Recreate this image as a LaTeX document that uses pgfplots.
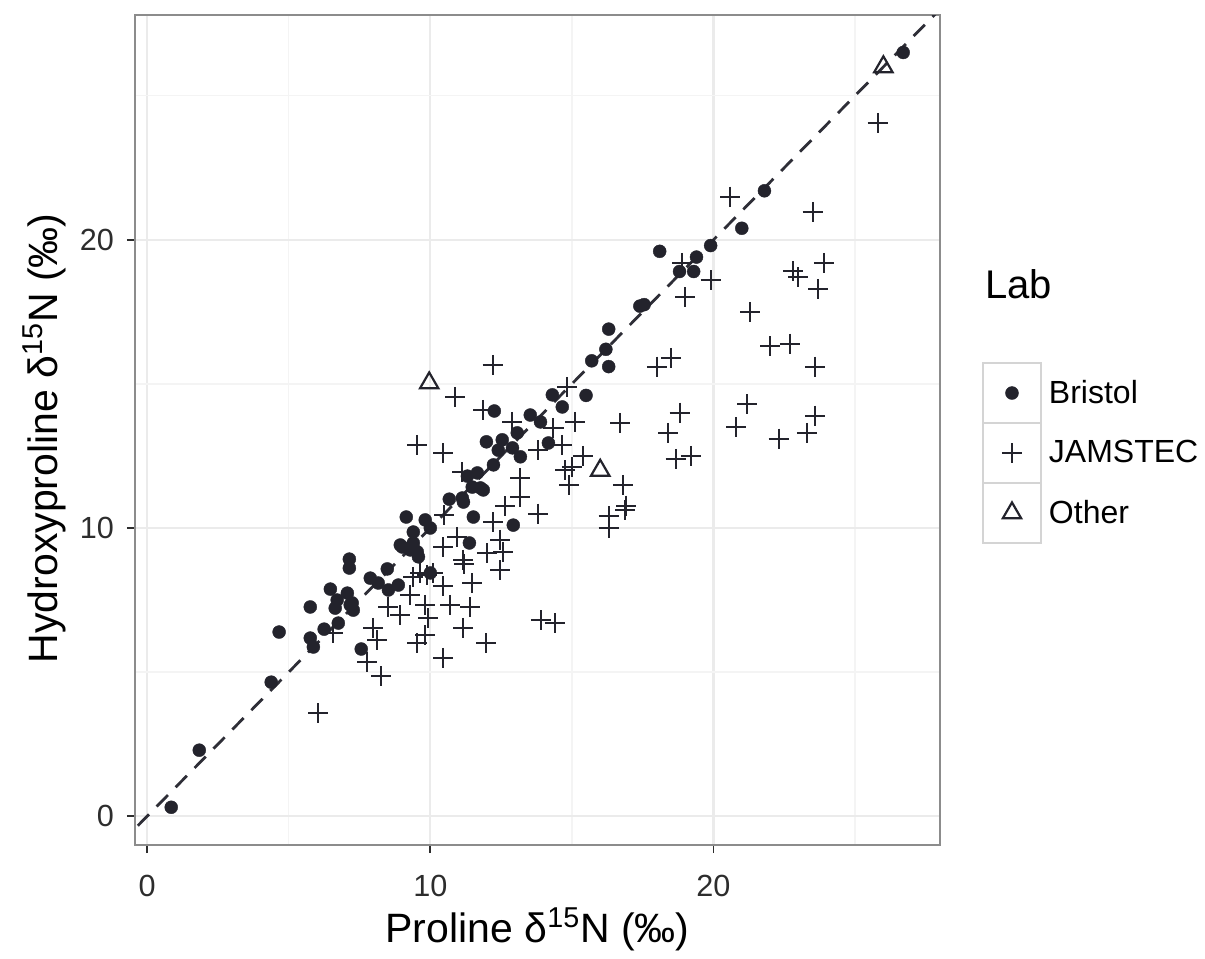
\documentclass[border=0pt]{standalone}
\usepackage{fontspec}
\setmainfont{Liberation Sans}
\usepackage{pgfplots}
\pgfplotsset{compat=1.18}
\definecolor{ptcol}{RGB}{35,35,44}
\definecolor{tickcol}{RGB}{45,45,45}
\definecolor{gridmaj}{RGB}{235,235,235}
\definecolor{gridmin}{RGB}{244,244,244}
\definecolor{bordercol}{RGB}{140,140,140}
\definecolor{keycol}{RGB}{212,212,212}

\pgfplotstableread{
x y
0.85 0.31
1.84 2.29
4.38 4.65
4.66 6.39
5.76 7.26
5.76 6.18
5.87 5.87
6.25 6.49
6.47 7.88
6.71 7.50
6.64 7.22
6.75 6.70
7.07 7.74
7.17 7.33
7.28 7.15
7.24 7.40
7.14 8.92
7.14 8.61
7.56 5.80
7.88 8.26
8.16 8.09
8.48 8.58
8.52 7.85
8.87 8.02
8.94 9.41
9.15 10.38
9.40 9.86
9.01 9.34
9.29 9.24
9.40 9.48
9.54 9.17
9.58 9.00
9.82 10.28
10.00 10.00
10.00 8.44
10.67 11.00
11.13 11.04
11.17 10.90
11.38 9.48
11.52 10.38
11.31 11.80
11.66 11.91
11.87 11.32
11.48 11.42
11.77 11.39
12.23 12.19
12.26 14.06
11.98 12.99
12.40 12.70
12.54 13.06
12.90 12.78
13.07 13.30
13.18 12.47
12.93 10.10
13.53 13.92
13.89 13.68
14.17 12.95
14.31 14.62
14.66 14.20
15.50 14.60
15.70 15.80
16.20 16.20
16.30 15.60
16.30 16.90
17.40 17.70
17.55 17.75
18.10 19.60
18.80 18.90
19.30 18.90
19.40 19.40
19.90 19.80
21.00 20.40
21.80 21.70
26.70 26.50
}\bristol

\pgfplotstableread{
x y
25.80 24.06
20.60 21.50
23.50 20.97
18.90 19.20
19.90 18.60
19.00 18.00
23.90 19.20
22.80 18.90
23.00 18.70
23.70 18.30
21.30 17.50
22.00 16.30
22.70 16.40
23.60 15.60
18.00 15.60
18.50 15.90
14.84 14.90
21.20 14.30
18.80 14.00
23.60 13.90
15.12 13.68
16.70 13.65
18.40 13.30
20.80 13.50
22.30 13.10
23.30 13.30
14.35 13.47
14.66 12.88
13.82 12.70
18.66 12.40
19.20 12.50
15.40 12.50
14.77 12.00
15.00 12.10
14.90 11.50
16.80 11.50
16.92 10.78
16.88 10.62
16.30 10.40
16.30 10.00
13.80 10.50
13.90 6.80
14.40 6.70
12.20 15.66
10.88 14.55
11.87 14.10
12.90 13.68
9.54 12.88
10.46 12.60
11.13 11.94
13.18 11.74
13.18 11.08
12.65 10.76
12.23 10.20
10.50 10.45
10.95 9.69
10.46 9.34
11.17 8.89
11.20 8.75
12.00 9.13
12.58 9.17
12.47 9.60
12.47 8.54
11.48 8.08
9.65 8.44
10.10 8.44
10.44 7.98
9.29 7.67
9.82 7.33
9.40 8.30
9.89 8.37
10.70 7.33
11.41 7.26
9.93 6.88
8.52 7.26
8.94 6.98
6.57 6.35
7.99 6.53
8.13 6.11
9.82 6.28
9.54 6.00
11.17 6.53
11.98 6.00
7.77 5.35
8.27 4.86
10.46 5.49
6.04 3.58
}\jamstec

\pgfplotstableread{
x y
9.96 15.03
16.00 12.00
26.00 26.00
}\other

\begin{document}
\begin{tikzpicture}
\begin{axis}[
  scale only axis,
  width=402.5pt, height=415pt,
  xmin=-0.43, xmax=28.0,
  ymin=-1.0, ymax=27.8,
  xtick={0,10,20}, ytick={0,10,20},
  minor xtick={5,15,25}, minor ytick={5,15,25},
  grid=both,
  major grid style={color=gridmaj, line width=1.1pt},
  minor grid style={color=gridmin, line width=0.7pt},
  tick pos=left,
  tick align=outside,
  major tick length=4pt,
  minor tick length=0pt,
  tick style={color=tickcol, line width=0.9pt},
  axis line style={color=bordercol, line width=1.2pt},
  /pgf/number format/assume math mode=true,
  tick label style={font=\fontsize{15.3}{16}\selectfont, text=tickcol},
  xticklabel style={anchor=base, yshift=-21.5pt},
  yticklabel style={anchor=east, xshift=-3pt},
  xlabel={Proline δ\textsuperscript{15}N (‰)},
  ylabel={Hydroxyproline δ\textsuperscript{15}N (‰)},
  label style={font=\fontsize{20.5}{23}\selectfont},
  xlabel style={at={(axis description cs:0.5,-0.118)}, anchor=base},
  ylabel style={at={(axis description cs:-0.0957,0.49)}, anchor=base},
  legend image code/.code={
    \draw[draw=keycol, line width=1.3pt, fill=white, overlay] (-14.5pt,-15pt) rectangle (14.5pt,15pt);
    \path[draw=none, fill=none] (-14.5pt,-15pt) rectangle (16.5pt,15pt);
    \draw[#1] plot coordinates {(0pt,0pt)};
  },
  legend style={at={(1.0534,0.5807)}, anchor=north west, draw=none, fill=none,
    inner sep=0pt, outer sep=0pt, row sep=0pt,
    font=\fontsize{16}{19}\selectfont, cells={anchor=west}},
  legend cell align=left,
]
\addplot[only marks, mark=*, mark size=3.25pt, color=ptcol, mark options={fill=ptcol, draw=ptcol, line width=0.2pt}]
  table[x=x, y=y] {\bristol};
\addlegendentry{Bristol}
\addplot[only marks, mark=+, mark size=5pt, color=ptcol, mark options={line width=1pt}]
  table[x=x, y=y] {\jamstec};
\addlegendentry{JAMSTEC}
\addplot[only marks, mark=triangle, mark size=5.3pt, color=ptcol, mark options={line width=1.1pt, fill=none}]
  table[x=x, y=y] {\other};
\addlegendentry{Other}
\addplot[forget plot, color=ptcol!95, line width=1.4pt, dash pattern=on 8pt off 5.5pt]
  coordinates {(-1,-1) (28.5,28.5)};
\end{axis}
\path (current axis.south west) ++(425pt,273.5pt) node[anchor=base west, font=\fontsize{20}{23}\selectfont, inner sep=0pt] {Lab};
\path (current axis.south west) ++(-67.5pt,-52pt) rectangle ++(602.5pt,474.5pt);
\end{tikzpicture}
\end{document}
